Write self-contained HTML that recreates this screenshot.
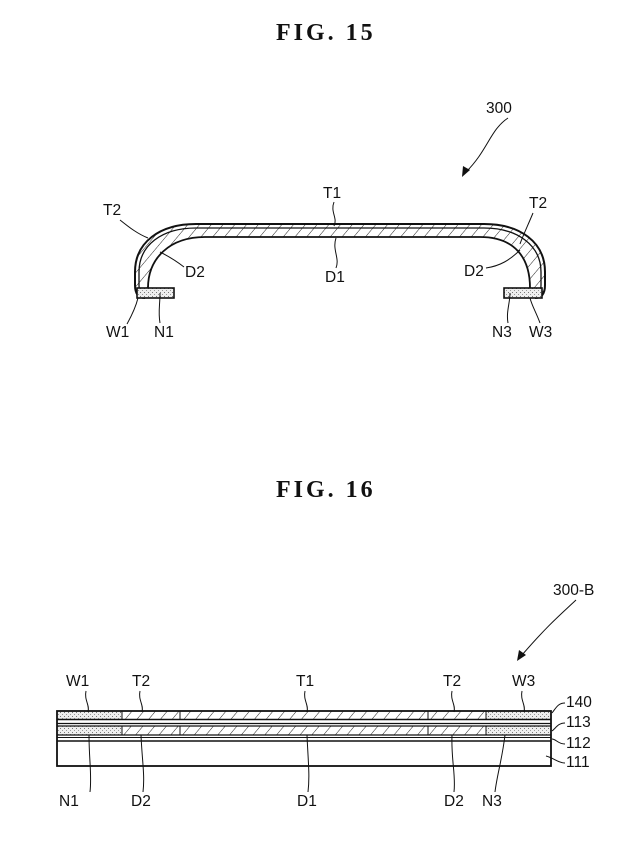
<!DOCTYPE html>
<html><head><meta charset="utf-8"><style>
body{margin:0;background:#fff;}
svg{display:block;}
text{font-family:"Liberation Sans",sans-serif;font-size:15.5px;fill:#111;}
.fig{font-family:"Liberation Serif",serif;font-size:24px;font-weight:bold;letter-spacing:3px;}
</style></head><body>
<svg width="642" height="856" viewBox="0 0 642 856" xmlns="http://www.w3.org/2000/svg">
<defs>
<pattern id="h" width="9" height="9" patternUnits="userSpaceOnUse" patternTransform="rotate(40)">
<rect width="9" height="9" fill="#fff"/><line x1="0" y1="0" x2="0" y2="9" stroke="#222" stroke-width="1"/>
</pattern>
<pattern id="d" width="4" height="4" patternUnits="userSpaceOnUse">
<rect width="4" height="4" fill="#eee"/><rect x="0" y="0" width="1" height="1" fill="#777"/><rect x="2" y="2" width="1" height="1" fill="#999"/>
</pattern>
</defs>
<text class="fig" x="276" y="40">FIG.  15</text>
<text class="fig" x="276" y="497">FIG.  16</text>

<text x="486" y="113">300</text>
<path d="M508,118 C490,130 488,150 466,172" fill="none" stroke="#111" stroke-width="1"/>
<path d="M462,177 L463,166 L470,170 Z" fill="#111"/>

<path d="M145,298 Q135,298 135,285 L135,272 C135,242 160,224 196,224 L484,224 C520,224 545,242 545,272 L545,285 Q545,298 535,298 L530,298 L530,288 C530,258 515,237 480,237 L205,237 C170,237 148,258 148,288 L148,298 Z" fill="url(#h)" stroke="none"/>
<path d="M145,298 Q135,298 135,285 L135,272 C135,242 160,224 196,224 L484,224 C520,224 545,242 545,272 L545,285 Q545,298 535,298" fill="none" stroke="#111" stroke-width="2"/>
<path d="M146,295 Q139,295 139,285 L139,272 C139,245 162,228 196,228 L484,228 C517,228 541,245 541,272 L541,285 Q541,295 534,295" fill="none" stroke="#111" stroke-width="1.3"/>
<path d="M148,288 C148,258 170,237 205,237 L480,237 C515,237 530,258 530,288" fill="none" stroke="#111" stroke-width="1.8"/>
<rect x="137" y="288" width="37" height="10" fill="url(#d)" stroke="#111" stroke-width="1.6"/>
<rect x="504" y="288" width="38" height="10" fill="url(#d)" stroke="#111" stroke-width="1.6"/>

<text x="323" y="198">T1</text>
<path d="M334,202 C330,212 338,218 334,226" fill="none" stroke="#111"/>
<text x="325" y="282">D1</text>
<path d="M336,268 C340,258 332,250 336,238" fill="none" stroke="#111"/>
<text x="103" y="215">T2</text>
<path d="M120,220 C130,228 138,234 148,238" fill="none" stroke="#111"/>
<text x="185" y="277">D2</text>
<path d="M184,267 C175,260 168,256 160,252" fill="none" stroke="#111"/>
<text x="529" y="208">T2</text>
<path d="M533,213 C528,225 522,238 520,244" fill="none" stroke="#111"/>
<text x="464" y="276">D2</text>
<path d="M486,268 C500,266 510,260 520,250" fill="none" stroke="#111"/>
<text x="106" y="337">W1</text>
<path d="M127,324 C132,315 136,306 138,298" fill="none" stroke="#111"/>
<text x="154" y="337">N1</text>
<path d="M160,323 C158,312 160,305 160,293" fill="none" stroke="#111"/>
<text x="492" y="337">N3</text>
<path d="M508,323 C506,312 510,303 510,293" fill="none" stroke="#111"/>
<text x="529" y="337">W3</text>
<path d="M540,323 C536,312 532,306 530,298" fill="none" stroke="#111"/>

<text x="553" y="595">300-B</text>
<path d="M576,600 C560,615 548,625 522,655" fill="none" stroke="#111" stroke-width="1"/>
<path d="M517,661 L519,650 L526,655 Z" fill="#111"/>

<rect x="57" y="711" width="65" height="8" fill="url(#d)"/>
<rect x="486" y="711" width="65" height="8" fill="url(#d)"/>
<rect x="122" y="711" width="364" height="8" fill="url(#h)"/>
<rect x="57" y="726" width="65" height="9" fill="url(#d)"/>
<rect x="486" y="726" width="65" height="9" fill="url(#d)"/>
<rect x="122" y="726" width="364" height="9" fill="url(#h)"/>
<rect x="57" y="711" width="494" height="55" fill="none" stroke="#111" stroke-width="1.8"/>
<line x1="57" y1="719.5" x2="551" y2="719.5" stroke="#111" stroke-width="1.5"/>
<line x1="57" y1="723.5" x2="551" y2="723.5" stroke="#111" stroke-width="1.2"/>
<line x1="57" y1="726" x2="551" y2="726" stroke="#111" stroke-width="1.2"/>
<line x1="57" y1="735" x2="551" y2="735" stroke="#111" stroke-width="1.2"/>
<line x1="57" y1="737.5" x2="551" y2="737.5" stroke="#111" stroke-width="1"/>
<line x1="57" y1="741" x2="551" y2="741" stroke="#111" stroke-width="1.5"/>
<g stroke="#111" stroke-width="1">
<line x1="122" y1="711" x2="122" y2="719"/><line x1="180" y1="711" x2="180" y2="719"/><line x1="428" y1="711" x2="428" y2="719"/><line x1="486" y1="711" x2="486" y2="719"/>
<line x1="122" y1="726" x2="122" y2="735"/><line x1="180" y1="726" x2="180" y2="735"/><line x1="428" y1="726" x2="428" y2="735"/><line x1="486" y1="726" x2="486" y2="735"/>
</g>

<text x="66" y="686">W1</text><path d="M86,691 C84,700 90,705 88,712" fill="none" stroke="#111"/>
<text x="132" y="686">T2</text><path d="M140,691 C138,700 144,705 142,712" fill="none" stroke="#111"/>
<text x="296" y="686">T1</text><path d="M305,691 C303,700 309,705 307,712" fill="none" stroke="#111"/>
<text x="443" y="686">T2</text><path d="M452,691 C450,700 456,705 454,712" fill="none" stroke="#111"/>
<text x="512" y="686">W3</text><path d="M522,691 C520,700 526,705 524,712" fill="none" stroke="#111"/>

<text x="566" y="707">140</text><path d="M565,703 C558,703 556,708 552,713" fill="none" stroke="#111"/>
<text x="566" y="727">113</text><path d="M565,723 C558,723 556,728 552,731" fill="none" stroke="#111"/>
<text x="566" y="748">112</text><path d="M565,744 C558,744 556,739 552,739" fill="none" stroke="#111"/>
<text x="566" y="767">111</text><path d="M565,763 C558,763 554,758 546,756" fill="none" stroke="#111"/>

<text x="59" y="806">N1</text><path d="M89,735 C89,760 92,775 90,792" fill="none" stroke="#111"/>
<text x="131" y="806">D2</text><path d="M141,735 C142,760 145,775 143,792" fill="none" stroke="#111"/>
<text x="297" y="806">D1</text><path d="M307,735 C308,760 310,775 308,792" fill="none" stroke="#111"/>
<text x="444" y="806">D2</text><path d="M452,735 C451,760 456,775 454,792" fill="none" stroke="#111"/>
<text x="482" y="806">N3</text><path d="M505,735 C502,760 497,775 495,792" fill="none" stroke="#111"/>
</svg>
</body></html>
